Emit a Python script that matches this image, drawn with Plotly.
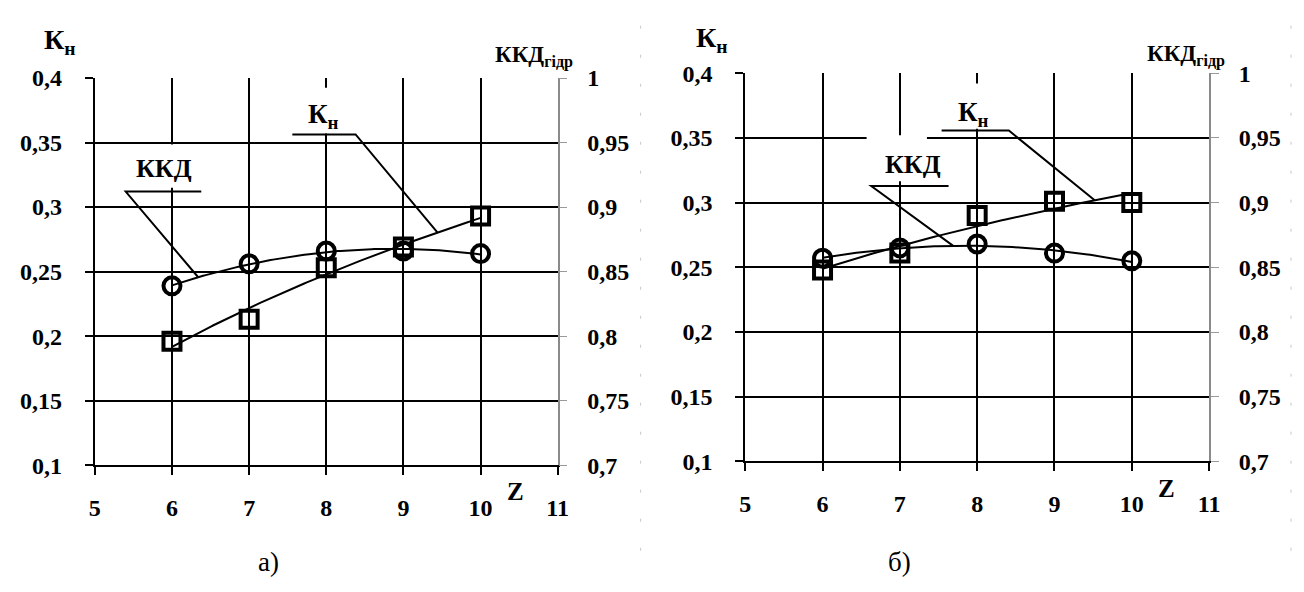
import numpy as np
import plotly.graph_objects as go

# ---- data -------------------------------------------------------------
z_a = [6, 7, 8, 9, 10]
kn_a = [0.196, 0.213, 0.253, 0.269, 0.293]
kkd_a = [0.839, 0.856, 0.866, 0.866, 0.864]

z_b = [6, 7, 8, 9, 10]
kn_b = [0.248, 0.261, 0.290, 0.301, 0.300]
kkd_b = [0.857, 0.865, 0.868, 0.861, 0.855]

z_ticks = [5, 6, 7, 8, 9, 10, 11]
kn_ticks = [0.1, 0.15, 0.2, 0.25, 0.3, 0.35, 0.4]
kn_ticktext = ["0,1", "0,15", "0,2", "0,25", "0,3", "0,35", "0,4"]
kkd_ticks = [0.7, 0.75, 0.8, 0.85, 0.9, 0.95, 1.0]
kkd_ticktext = ["0,7", "0,75", "0,8", "0,85", "0,9", "0,95", "1"]

W, H = 1304, 592
SERIF = "Liberation Serif, Times New Roman, DejaVu Serif, serif"
TICKFONT = dict(family=SERIF, size=24, color="black")


def b(s):
    return f"<b>{s}</b>"


def log_trend(x, y):
    a, c = np.polyfit(np.log(x), y, 1)
    return lambda t: a * np.log(t) + c


def poly_trend(x, y):
    c = np.polyfit(x, y, 2)
    return lambda t: np.polyval(c, t)


fig = go.Figure()

panels = [
    # (x axis, left y, right y, z, kn, kkd)
    ("x", "y", "y2", z_a, kn_a, kkd_a),
    ("x2", "y3", "y4", z_b, kn_b, kkd_b),
]

trends = []
for xa, yl, yr, z, kn, kkd in panels:
    t = np.linspace(min(z), max(z), 120)
    f_kn = log_trend(z, kn)
    f_kkd = poly_trend(z, kkd)
    trends.append((f_kn, f_kkd))
    fig.add_trace(go.Scatter(x=t, y=f_kkd(t), mode="lines", xaxis=xa, yaxis=yr,
                             line=dict(color="black", width=2), hoverinfo="skip"))
    fig.add_trace(go.Scatter(x=t, y=f_kn(t), mode="lines", xaxis=xa, yaxis=yl,
                             line=dict(color="black", width=2), hoverinfo="skip"))
    fig.add_trace(go.Scatter(x=z, y=kkd, mode="markers", xaxis=xa, yaxis=yr,
                             marker=dict(symbol="circle-open", size=17, color="black",
                                         line=dict(width=4, color="black"))))
    fig.add_trace(go.Scatter(x=z, y=kn, mode="markers", xaxis=xa, yaxis=yl,
                             marker=dict(symbol="square-open", size=17, color="black",
                                         line=dict(width=4, color="black"))))


# ---- axes -------------------------------------------------------------
def px_x(p):
    return p / W


def px_y(p):
    return 1 - p / H


x_common = dict(range=[5, 11], tickmode="array", tickvals=z_ticks,
                ticktext=[b(v) for v in z_ticks], showgrid=True,
                gridcolor="black", gridwidth=2, showline=True, linecolor="black",
                linewidth=2, ticks="outside", ticklen=8, tickwidth=2,
                tickcolor="black", tickfont=TICKFONT, zeroline=False,
                ticklabelstandoff=12)
yl_common = dict(range=[0.1, 0.4], tickmode="array", tickvals=kn_ticks,
                 ticktext=[b(s) for s in kn_ticktext], showgrid=True,
                 gridcolor="black", gridwidth=2, showline=True, linecolor="black",
                 linewidth=2, ticks="outside", ticklen=8, tickwidth=2,
                 tickcolor="black", tickfont=TICKFONT, zeroline=False,
                 ticklabelstandoff=18)
yr_common = dict(range=[0.7, 1.0], tickmode="array", tickvals=kkd_ticks,
                 ticktext=[b(s) for s in kkd_ticktext], showgrid=False,
                 showline=True, linecolor="#8a8a8a", linewidth=1.5,
                 ticks="outside", ticklen=8, tickwidth=1, tickcolor="#9a9a9a",
                 tickfont=TICKFONT, zeroline=False, side="right",
                 ticklabelstandoff=15)

fig.update_layout(
    xaxis=dict(domain=[px_x(90), px_x(559)], anchor="y", **x_common),
    yaxis=dict(domain=[px_y(473), px_y(68)], anchor="x", **yl_common),
    yaxis2=dict(overlaying="y", anchor="x", **yr_common),
    xaxis2=dict(domain=[px_x(749), px_x(1219)], anchor="y3", **x_common),
    yaxis3=dict(domain=[px_y(469), px_y(63)], anchor="x2", **yl_common),
    yaxis4=dict(overlaying="y3", anchor="x2", **yr_common),
)

# ---- label boxes and leader lines ----------------------------------------
shapes = []


def box(xref, yref, x0, x1, y0, y1):
    shapes.append(dict(type="rect", xref=xref, yref=yref, x0=x0, x1=x1, y0=y0,
                       y1=y1, fillcolor="white", line=dict(width=0),
                       layer="between"))


def leader(xref, yref, xs, ys):
    path = "M " + " L ".join(f"{p},{q}" for p, q in zip(xs, ys))
    shapes.append(dict(type="path", xref=xref, yref=yref, path=path,
                       line=dict(color="black", width=2), layer="above"))


(fa_kn, fa_kkd), (fb_kn, fb_kkd) = trends

# panel a
box("x", "y", 5.5, 6.3, 0.315, 0.3485)
box("x", "y", 7.5, 8.45, 0.357, 0.3925)
leader("x", "y", [6.38, 5.40, 6.34], [0.312, 0.312, fa_kkd(6.34) - 0.6])
leader("x", "y", [7.56, 8.38, 9.44], [0.3563, 0.3563, float(fa_kn(9.44))])

# panel b
box("x2", "y3", 6.57, 7.35, 0.3165, 0.352)
box("x2", "y3", 7.5, 8.4, 0.357, 0.392)
leader("x2", "y3", [7.63, 6.63, 7.69], [0.3128, 0.3128, fb_kkd(7.69) - 0.6])
leader("x2", "y3", [7.54, 8.41, 9.52], [0.3557, 0.3557, float(fb_kn(9.52))])

# faint dotted page separators
for xp in (643, 1302):
    shapes.append(dict(type="line", xref="paper", yref="paper", x0=px_x(xp),
                       x1=px_x(xp), y0=0.05, y1=1,
                       line=dict(color="#c8c8c8", width=1, dash="3px,26px")))

# ---- text ---------------------------------------------------------------
annotations = []


def text(s, x, y, size=23, bold=True, xanchor="center"):
    annotations.append(dict(text=b(s) if bold else s, xref="paper", yref="paper",
                            x=px_x(x), y=px_y(y), xanchor=xanchor,
                            yanchor="middle", showarrow=False,
                            font=dict(family=SERIF, size=size, color="black")))


for dx, dy in ((0, 0), (660, -2)):
    text("К<sub>н</sub>", 55 + dx, 30 + dy, size=28)
    text("ККД<sub>гідр</sub>", 577 + dx, 46 + dy, size=23, xanchor="right")

text("Z", 516, 500, size=25)
text("Z", 1176, 497, size=25)
text("ККД", 160, 163, size=26)
text("К<sub>н</sub>", 322, 108, size=27)
text("ККД", 919, 158, size=26)
text("К<sub>н</sub>", 980, 106, size=27)
text("а)", 266, 574, size=27, bold=False)
text("б)", 905, 574, size=27, bold=False)

fig.update_layout(
    width=W, height=H, margin=dict(l=0, r=0, t=0, b=0),
    paper_bgcolor="white", plot_bgcolor="white", showlegend=False,
    shapes=shapes, annotations=annotations,
)

fig.write_html("out.html")
